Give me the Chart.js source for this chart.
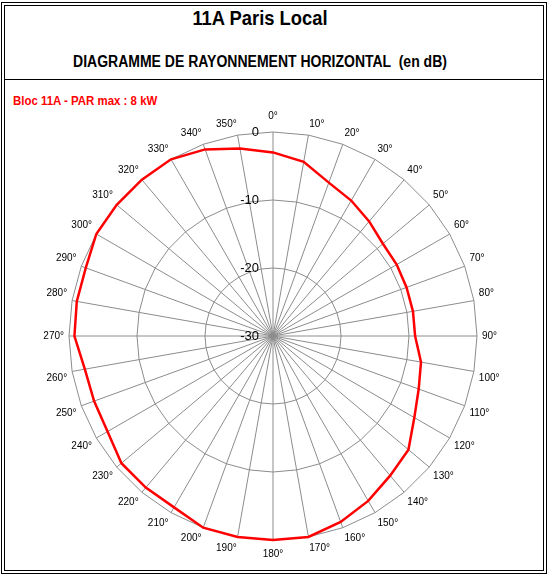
<!DOCTYPE html>
<html>
<head>
<meta charset="utf-8">
<script src="https://cdn.jsdelivr.net/npm/chart.js@4/dist/chart.umd.min.js"></script>
<style>
  html, body { margin: 0; padding: 0; background: #fff; }
  body { width: 550px; height: 580px; position: relative; overflow: hidden;
         font-family: "Liberation Sans", Arial, sans-serif; }
  .frame { position: absolute; left: 1px; top: 2px; width: 538px; height: 564px;
           border: 4px double #000; }
  .sep { position: absolute; left: 5px; top: 78.5px; width: 538px; height: 0;
         border-top: 1.5px solid #000; }
  .txt { position: absolute; white-space: pre; font-weight: bold; line-height: 1; }
  #title { left: 0; width: 520px; top: 7px; font-size: 21px; text-align: center;
           transform: scaleX(0.875); transform-origin: 260px 0; color: #000; }
  #subtitle { left: 0; width: 520px; top: 53.5px; font-size: 16px; text-align: center;
              transform: scaleX(0.875); transform-origin: 260px 0; color: #000; }
  #bloc { left: 13px; top: 93.7px; font-size: 13px; color: #ff0000;
          transform: scaleX(0.88); transform-origin: 0 0; }
  #chart-box { position: absolute; left: 0; top: 109px; width: 546px; height: 452px; }
</style>
</head>
<body>
<div class="frame"></div>
<div class="sep"></div>
<div class="txt" id="title">11A Paris Local</div>
<div class="txt" id="subtitle">DIAGRAMME DE RAYONNEMENT HORIZONTAL  (en dB)</div>
<div class="txt" id="bloc">Bloc 11A - PAR max : 8 kW</div>
<div id="chart-box"><canvas id="radarChart"></canvas></div>

<script>
// angles du diagramme (tous les 10°)
const angleLabels = ['0°', '10°', '20°', '30°', '40°', '50°', '60°', '70°', '80°', '90°',
    '100°', '110°', '120°', '130°', '140°', '150°', '160°', '170°', '180°', '190°',
    '200°', '210°', '220°', '230°', '240°', '250°', '260°', '270°', '280°', '290°',
    '300°', '310°', '320°', '330°', '340°', '350°'];

const attenuation = [-3, -4, -6, -7, -8, -8.9, -9, -9.1, -9.1, -9.1,
    -7.9, -7.2, -6, -4, -3.2, -2, -0.9, 0, 0, 0,
    0, -0.9, -0.9, -0.9, -1.9, -2, -1.9, -0.8, -0.7, -0.7,
    0, 0, 0, 0, -0.8, -2];

// graduations de l'échelle radiale
const scaleTicks = [-30, -20, -10, 0];

const gridColor = '#8c8c8c';

// les valeurs de l'échelle sont dessinées à gauche de l'axe 0°, comme dans Excel
const tickLabelsPlugin = {
    id: 'tickLabels',
    afterDraw(chart) {
        const scale = chart.scales.r;
        const ctx = chart.ctx;
        ctx.save();
        ctx.font = '13px "Liberation Sans", Arial, sans-serif';
        ctx.fillStyle = '#000';
        ctx.textAlign = 'right';
        ctx.textBaseline = 'middle';
        scaleTicks.forEach(v => {
            const y = scale.yCenter - scale.getDistanceFromCenterForValue(v);
            ctx.fillText(String(v), scale.xCenter - 14, y);
        });
        ctx.restore();
    }
};

new Chart(document.getElementById('radarChart'), {
    type: 'radar',
    data: {
        labels: angleLabels,
        datasets: [{
            label: 'Bloc 11A',
            data: attenuation,
            borderColor: '#ff0000',
            borderWidth: 2.5,
            fill: false,
            pointRadius: 0,
            pointHoverRadius: 0,
            tension: 0
        }]
    },
    options: {
        responsive: true,
        maintainAspectRatio: false,
        animation: false,
        layout: { padding: 0 },
        plugins: {
            legend: { display: false },
            tooltip: { enabled: false }
        },
        scales: {
            r: {
                min: -30,
                max: 0,
                ticks: { stepSize: 10, display: false },
                grid: { color: gridColor, lineWidth: 1 },
                angleLines: { color: gridColor, lineWidth: 1 },
                pointLabels: {
                    color: '#000',
                    // 0° et 180° un peu plus loin du cercle
                    padding: ctx => ctx.index === 0 ? 10 : (ctx.index === 18 ? 8 : 5),
                    font: { family: '"Liberation Sans", Arial, sans-serif', size: 10 }
                }
            }
        }
    },
    plugins: [tickLabelsPlugin]
});
</script>
</body>
</html>
